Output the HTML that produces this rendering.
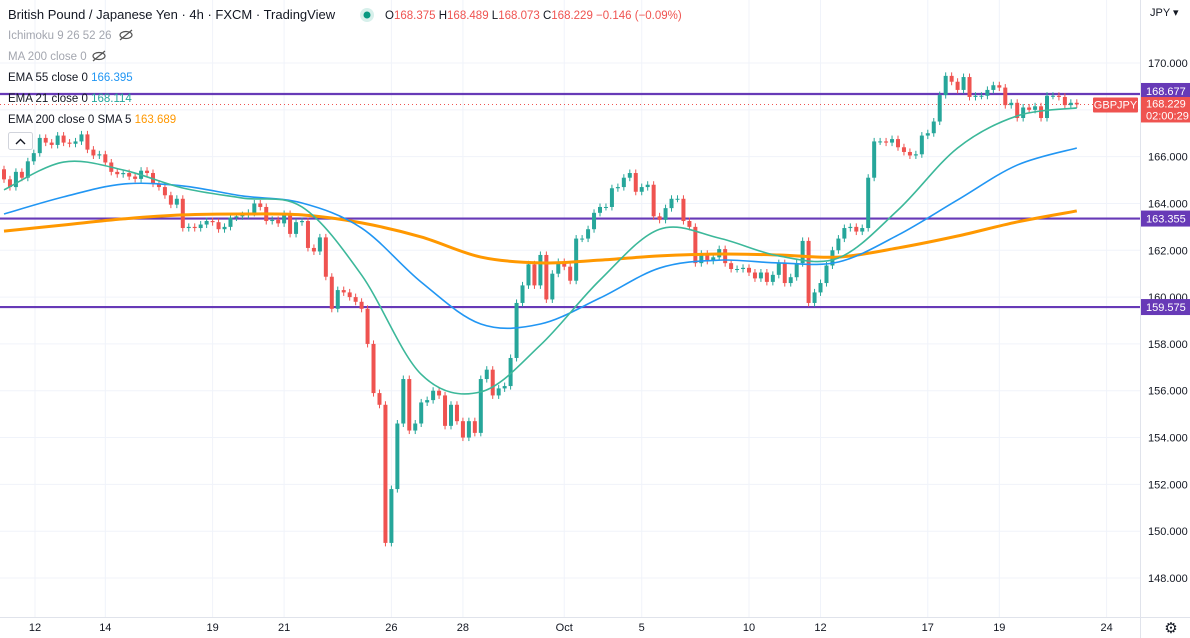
<!DOCTYPE html>
<html><head><meta charset="utf-8">
<style>
html,body{margin:0;padding:0;background:#fff;}
body{width:1190px;height:638px;overflow:hidden;position:relative;font-family:"Liberation Sans",sans-serif;}
svg{position:absolute;left:0;top:0;}
</style></head>
<body>
<svg id="chart" width="1190" height="638">
  <g id="grid"></g>
  <g id="hlines"></g>
  <g id="candles"></g>
  <g id="emas"></g>
  <g id="axes"></g>
  <g id="legend">
    <text x="8" y="19" font-size="13" fill="#131722">British Pound / Japanese Yen · 4h · FXCM · TradingView</text>
    <circle cx="367" cy="15" r="7" fill="#d7f0eb"></circle>
    <circle cx="367" cy="15" r="3.5" fill="#089981"></circle>
    <text x="385" y="19" font-size="11.5"><tspan fill="#131722">O</tspan><tspan fill="#ef5350">168.375 </tspan><tspan fill="#131722">H</tspan><tspan fill="#ef5350">168.489 </tspan><tspan fill="#131722">L</tspan><tspan fill="#ef5350">168.073 </tspan><tspan fill="#131722">C</tspan><tspan fill="#ef5350">168.229 −0.146 (−0.09%)</tspan></text>
    <text x="8" y="39" font-size="11.5" fill="#a3a6af">Ichimoku 9 26 52 26</text>
    <text x="8" y="60" font-size="11.5" fill="#a3a6af">MA 200 close 0</text>
    <g stroke="#555" fill="none" stroke-width="1.2">
      <ellipse cx="126" cy="35" rx="6" ry="3.5"></ellipse><line x1="120" y1="40" x2="132" y2="30"></line>
      <ellipse cx="99" cy="56" rx="6" ry="3.5"></ellipse><line x1="93" y1="61" x2="105" y2="51"></line>
    </g>
    <text x="8" y="81" font-size="11.5" fill="#131722">EMA 55 close 0 <tspan fill="#2196f3">166.395</tspan></text>
    <text x="8" y="102" font-size="11.5" fill="#131722">EMA 21 close 0 <tspan fill="#26a69a">168.114</tspan></text>
    <text x="8" y="123" font-size="11.5" fill="#131722">EMA 200 close 0 SMA 5 <tspan fill="#ff9800">163.689</tspan></text>
    <rect x="8.5" y="132.5" width="24" height="17" rx="2" fill="#fff" stroke="#d1d4dc"></rect>
    <path d="M16 144 L20.5 139.5 L25 144" stroke="#131722" fill="none" stroke-width="1.4"></path>
  </g>
</svg>
<script>
// ---- data ----
const firstOpen = 165.46;
const closes = [
165.03,164.7,165.35,165.1,165.8,166.15,166.8,166.6,166.5,166.9,166.6,166.55,166.65,166.95,166.3,166.05,166.1,165.75,165.35,165.25,165.3,165.15,165.05,165.4,165.3,164.85,164.7,164.35,163.95,164.2,162.95,163.0,162.95,163.1,163.25,163.2,162.9,163.0,163.4,163.45,163.5,163.6,164.0,163.85,163.25,163.3,163.15,163.55,162.7,163.2,163.25,162.1,161.95,162.55,160.87,159.5,160.3,
160.2,160.0,159.8,159.5,158.0,155.9,155.4,149.5,151.8,154.6,156.5,154.3,154.6,155.5,155.6,156.0,155.8,154.5,155.4,154.7,154.0,154.7,154.2,156.5,156.9,155.8,156.1,156.2,157.4,159.75,160.5,161.4,
160.5,161.8,159.9,161.0,161.5,161.3,160.7,162.5,162.5,162.9,163.6,163.85,163.85,164.65,164.7,165.1,165.3,164.5,164.7,164.8,163.45,163.3,163.8,164.2,164.2,163.25,163.0,161.45,161.85,161.55,161.7,162.05,161.45,161.2,161.2,161.25,161.05,160.8,161.05,160.65,160.95,161.45,160.6,160.85,161.45,162.4,159.75,160.2,
160.6,161.35,162.0,162.5,162.95,163.0,162.8,162.95,165.1,166.65,166.65,166.6,166.75,166.4,166.2,166.05,166.1,166.9,167.0,167.5,168.63,169.45,169.2,168.85,169.4,168.55,168.6,168.6,168.85,169.05,168.95,168.2,168.3,167.65,168.1,168.0,168.15,167.65,168.6,168.6,168.55,168.2,168.3,168.23
];
const ema21 = [164.58,165.77,165.43,164.66,164.23,163.85,160.94,156.7,155.95,157.95,160.73,162.9,162.52,161.76,161.67,163.72,166.37,167.74,168.08];
const ema55 = [163.55,164.28,164.83,164.75,164.32,164.02,162.95,160.64,158.85,158.85,159.96,161.24,161.58,161.46,161.5,162.65,164.15,165.64,166.37];
const ema200 = [162.82,163.08,163.34,163.51,163.55,163.51,163.17,162.57,161.71,161.46,161.58,161.76,161.84,161.8,161.71,162.1,162.61,163.21,163.68];
const emaStep = 10;
const priceTicks = [170,168,166,164,162,160,158,156,154,152,150,148];
const dateLabels = ["12","14","19","21","26","28","Oct","5","10","12","17","19","24"];
const dateIdx = [5.2,17,35,47,65,77,94,107,125,137,155,167,185];
const levels = [168.677,163.355,159.575];
const lastPrice = 168.229;

// ---- scales ----
const plotW = 1140, plotH = 617;
const X0 = 4, DX = 5.96;
function xs(i){ return X0 + i*DX; }
function ys(p){ return 63 + (170 - p)*23.41; }

const NS = "http://www.w3.org/2000/svg";
function mk(tag, attrs, parent){ const e=document.createElementNS(NS,tag); for(const k in attrs) e.setAttribute(k,attrs[k]); parent.appendChild(e); return e; }

// grid
const grid = document.getElementById('grid');
priceTicks.forEach(p=>{
  const l = mk('line',{x1:0,x2:plotW,y1:ys(p),y2:ys(p),stroke:'#f0f3fa','stroke-width':1},grid);
  
  
});
dateIdx.forEach(i=>{
  const l = mk('line',{x1:xs(i),x2:xs(i),y1:0,y2:plotH,stroke:'#f0f3fa','stroke-width':1},grid);
  
  
});

// candles
const cg = document.getElementById('candles');
let prev = firstOpen;
closes.forEach((c,i)=>{
  const o = prev; prev = c;
  const up = c >= o;
  const col = up ? '#26a69a' : '#ef5350';
  const hi = Math.max(o,c)+0.15, lo = Math.min(o,c)-0.15;
  const x = xs(i);
  const w = mk('line',{x1:x,x2:x,y1:ys(hi),y2:ys(lo),stroke:col,'stroke-width':1},cg);
  
  
  const top = ys(Math.max(o,c)), bot = ys(Math.min(o,c));
  const b = mk('rect',{x:x-2,y:top,width:4,height:Math.max(1,bot-top),fill:col},cg);
  
  
});

// levels
const hg = document.getElementById('hlines');
const dl = mk('line',{x1:0,x2:plotW,y1:ys(lastPrice),y2:ys(lastPrice),stroke:'#ef5350','stroke-width':1,'stroke-dasharray':'1 3'},hg);


levels.forEach(p=>{
  const l = mk('line',{x1:0,x2:plotW,y1:ys(p),y2:ys(p),stroke:'#673ab7','stroke-width':2.2},hg);
  
  
});

// EMAs
function smoothPath(vals){
  const pts = vals.map((v,k)=>[xs(k*emaStep), ys(v)]);
  let d = 'M'+pts[0][0]+' '+pts[0][1];
  for(let k=0;k<pts.length-1;k++){
    const p0=pts[Math.max(0,k-1)], p1=pts[k], p2=pts[k+1], p3=pts[Math.min(pts.length-1,k+2)];
    const c1=[p1[0]+(p2[0]-p0[0])/6, p1[1]+(p2[1]-p0[1])/6];
    const c2=[p2[0]-(p3[0]-p1[0])/6, p2[1]-(p3[1]-p1[1])/6];
    d += ' C'+c1[0]+' '+c1[1]+' '+c2[0]+' '+c2[1]+' '+p2[0]+' '+p2[1];
  }
  return d;
}
const eg = document.getElementById('emas');
const e200 = mk('path',{d:smoothPath(ema200),stroke:'#ff9800','stroke-width':3,fill:'none'},eg);


const e55 = mk('path',{d:smoothPath(ema55),stroke:'#2196f3','stroke-width':1.6,fill:'none'},eg);


const e21 = mk('path',{d:smoothPath(ema21),stroke:'#3cb89a','stroke-width':1.6,fill:'none'},eg);



// axes
const ag = document.getElementById('axes');
const ab = mk('rect',{x:plotW,y:0,width:50,height:638,fill:'#fff'},ag);


const bb = mk('rect',{x:0,y:plotH,width:1190,height:21,fill:'#fff'},ag);


const bl = mk('line',{x1:plotW+0.5,x2:plotW+0.5,y1:0,y2:638,stroke:'#e0e3eb'},ag);


const tl = mk('line',{x1:0,x2:1190,y1:plotH+0.5,y2:plotH+0.5,stroke:'#e0e3eb'},ag);


priceTicks.forEach(p=>{
  const t = mk('text',{x:1148,y:ys(p)+4,'font-size':11,fill:'#131722'},ag);
  t.textContent = p.toFixed(3);
  
  
});
dateLabels.forEach((s,k)=>{
  const t = mk('text',{x:xs(dateIdx[k]),y:631,'font-size':11,fill:'#131722','text-anchor':'middle'},ag);
  t.textContent = s;
  
  
});
const lp = ys(lastPrice);
const lr = mk('rect',{x:plotW+1,y:lp-8,width:49,height:26,fill:'#ef5350'},ag);


const lt = mk('text',{x:1146,y:lp+3,'font-size':11,fill:'#fff'},ag);
lt.textContent = lastPrice.toFixed(3);


const ct = mk('text',{x:1146,y:lp+15,'font-size':11,fill:'#fff'},ag);
ct.textContent = '02:00:29';


levels.forEach((p,k)=>{
  const off = k===0 ? -11 : -8;
  const r = mk('rect',{x:plotW+1,y:ys(p)+off,width:49,height:k===0?14:16,fill:'#673ab7'},ag);
  
  
  const t = mk('text',{x:1146,y:ys(p)+off+12,'font-size':11,fill:'#fff'},ag);
  t.textContent = p.toFixed(3);
  
  
});
const sr = mk('rect',{x:1093,y:lp-7,width:45,height:15,rx:1,fill:'#ef5350'},ag);


const st = mk('text',{x:1115.5,y:lp+4,'font-size':11,fill:'#fff','text-anchor':'middle'},ag);
st.textContent = 'GBPJPY';


const cur = mk('text',{x:1150,y:16,'font-size':11,fill:'#131722'},ag);
cur.textContent = 'JPY ▾';


const gear = mk('text',{x:1171,y:633,'font-size':15,fill:'#131722','text-anchor':'middle'},ag);
gear.textContent = '⚙';


</script>
</body></html>
